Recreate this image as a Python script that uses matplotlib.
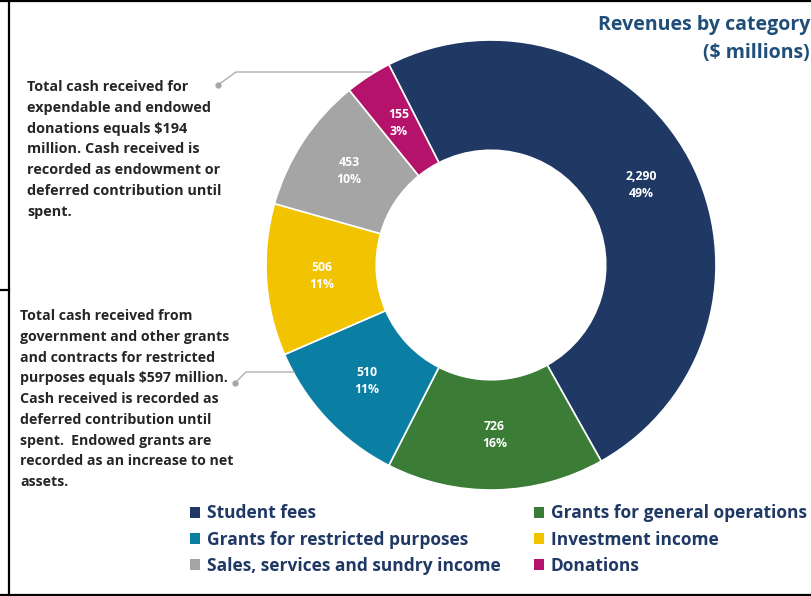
import matplotlib
matplotlib.use("Agg")
import numpy as np
import matplotlib.pyplot as plt
from matplotlib.lines import Line2D
from matplotlib.patches import Patch

# Revenue categories and amounts ($ millions)
categories = ["Student fees", "Grants for general operations",
              "Grants for restricted purposes", "Investment income",
              "Sales, services and sundry income", "Donations"]
revenues = [2290, 726, 510, 506, 453, 155]
pct_labels = ["49%", "16%", "11%", "11%", "10%", "3%"]
colors = ["#1f3864", "#3b7d36", "#0b7fa3", "#f2c300", "#a5a5a5", "#b4126b"]

note_donations = ["Total cash received for", "expendable and endowed",
                  "donations equals $194", "million. Cash received is",
                  "recorded as endowment or", "deferred contribution until", "spent."]
note_grants = ["Total cash received from", "government and other grants",
               "and contracts for restricted", "purposes equals $597 million.",
               "Cash received is recorded as", "deferred contribution until",
               "spent.  Endowed grants are", "recorded as an increase to net", "assets."]

W, H = 812, 596
FONT = ["Open Sans", "DejaVu Sans"]
plt.rcParams["font.family"] = FONT
fig = plt.figure(figsize=(W / 100, H / 100), dpi=100)


def fx(x):
    return x / W


def fy(y):
    return 1 - y / H


# donut centred at (491, 265) px with outer radius 225 px
cx, cy, r = 491, 265, 225
ax = fig.add_axes([fx(cx - r), fy(cy + r), 2 * r / W, 2 * r / H])
labels = [f"{v:,}\n{p}" for v, p in zip(revenues, pct_labels)]
wedges, _ = ax.pie(revenues, colors=colors, startangle=117, counterclock=False,
                   radius=1, wedgeprops=dict(width=0.49, edgecolor="white", linewidth=1.2))
for w, lab in zip(wedges, labels):
    ang = np.deg2rad((w.theta1 + w.theta2) / 2)
    ax.text(0.755 * np.cos(ang), 0.755 * np.sin(ang), lab, ha="center", va="center",
            color="white", fontsize=8.8, fontweight="bold", linespacing=1.4)
ax.set_xlim(-1, 1)
ax.set_ylim(-1, 1)
ax.axis("off")

# title in the top right corner
fig.text(fx(810), fy(25), "Revenues by category", ha="right", va="center",
         color="#1f4e79", fontsize=14, fontweight="bold")
fig.text(fx(810), fy(53), "($ millions)", ha="right", va="center",
         color="#1f4e79", fontsize=14, fontweight="bold")

# notes, one line at a time
for i, line in enumerate(note_donations):
    fig.text(fx(27), fy(87 + 20.8 * i), line, ha="left", va="center",
             color="#262626", fontsize=10.4, fontweight="bold")
for i, line in enumerate(note_grants):
    fig.text(fx(20), fy(316 + 20.75 * i), line, ha="left", va="center",
             color="#262626", fontsize=10.2, fontweight="bold")

lead = dict(color="#a6a6a6", lw=0.9, transform=fig.transFigure)
fig.add_artist(Line2D([fx(218), fx(236), fx(372)], [fy(85), fy(72), fy(72)], **lead))
fig.add_artist(Line2D([fx(235), fx(246), fx(294)], [fy(383), fy(372), fy(372)], **lead))
for px, py in [(218, 85), (235, 383)]:
    fig.add_artist(Line2D([fx(px)], [fy(py)], marker="o", markersize=3.5,
                          color="#a6a6a6", transform=fig.transFigure))

# legend, filled row by row
order = [0, 2, 4, 1, 3, 5]
handles = [Patch(facecolor=colors[i], edgecolor="none") for i in order]
leg = fig.legend(handles, [categories[i] for i in order], ncol=2,
                 loc="upper left", bbox_to_anchor=(fx(187), fy(501)),
                 frameon=False, handlelength=0.55, handleheight=0.55,
                 handletextpad=0.4, columnspacing=1.94, labelspacing=0.47,
                 borderaxespad=0, borderpad=0.2,
                 prop=dict(family=FONT, weight="bold", size=12.5))
for t in leg.get_texts():
    t.set_color("#1f3864")

# frame lines
frame = dict(color="black", lw=1.6, transform=fig.transFigure)
fig.add_artist(Line2D([fx(9), fx(9)], [fy(0), fy(596)], **frame))
fig.add_artist(Line2D([fx(0), fx(812)], [fy(1), fy(1)], **frame))
fig.add_artist(Line2D([fx(0), fx(812)], [fy(594.5), fy(594.5)], **frame))
fig.add_artist(Line2D([fx(0), fx(9)], [fy(290), fy(290)], **frame))

fig.savefig("out.png", dpi=100)
